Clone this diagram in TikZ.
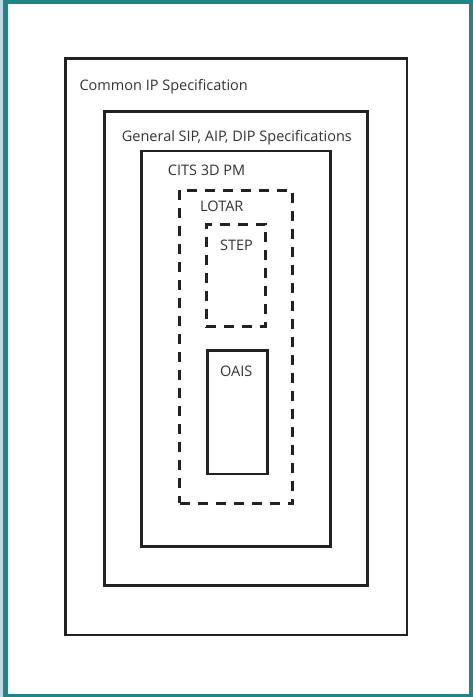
\documentclass[tikz,border=0pt]{standalone}
\usepackage{fontspec}
\setmainfont{Open Sans}
\definecolor{tealframe}{HTML}{1F8585}
\definecolor{lightstrip}{HTML}{BBDAE8}
\definecolor{txt}{HTML}{333333}
\definecolor{ln}{HTML}{222222}
\begin{document}
\begin{tikzpicture}[x=1pt,y=-1pt,
  solidbox/.style={draw=ln,line width=2.5pt,minimum width=#1,inner sep=0pt,outer sep=0pt},
  dashbox/.style={draw=ln,line width=3pt,dash pattern=on 10pt off 8pt,inner sep=0pt,outer sep=0pt},
  lbl/.style={anchor=base west,inner sep=0pt,text=txt,font=\fontsize{14.5}{17}\selectfont}]
\useasboundingbox (0,0) rectangle (473,697);
\fill[tealframe] (0,0) rectangle (473,697);
\fill[lightstrip] (0,0) rectangle (2.7,697);
\fill[white] (8,3.5) rectangle (469,694);
\node[solidbox=341.5pt,minimum height=576.5pt] (outer) at (236.25,346.75) {};
\node[solidbox=263.4pt,minimum height=474pt] (general) at (236,348.7) {};
\node[solidbox=189pt,minimum height=395.7pt] (cits) at (236.2,348.85) {};
\node[dashbox,minimum width=113.3pt,minimum height=313.3pt] (lotar) at (236.15,346.65) {};
\node[dashbox,minimum width=59.7pt,minimum height=102.4pt] (step) at (235.85,275.5) {};
\node[solidbox=59.6pt,minimum height=123.3pt] (oais) at (237.5,412.35) {};
\node[lbl] (tcommon) at (79.3,90) {Common IP Specification};
\node[lbl] (tgeneral) at (121.7,141.7) {General SIP, AIP, DIP Specifications};
\node[lbl] (tcits) at (167.7,175) {CITS 3D PM};
\node[lbl] (tlotar) at (200,211.7) {LOTAR};
\node[lbl] (tstep) at (220,250.7) {STEP};
\node[lbl] (toais) at (220,376.7) {OAIS};
\end{tikzpicture}
\end{document}
